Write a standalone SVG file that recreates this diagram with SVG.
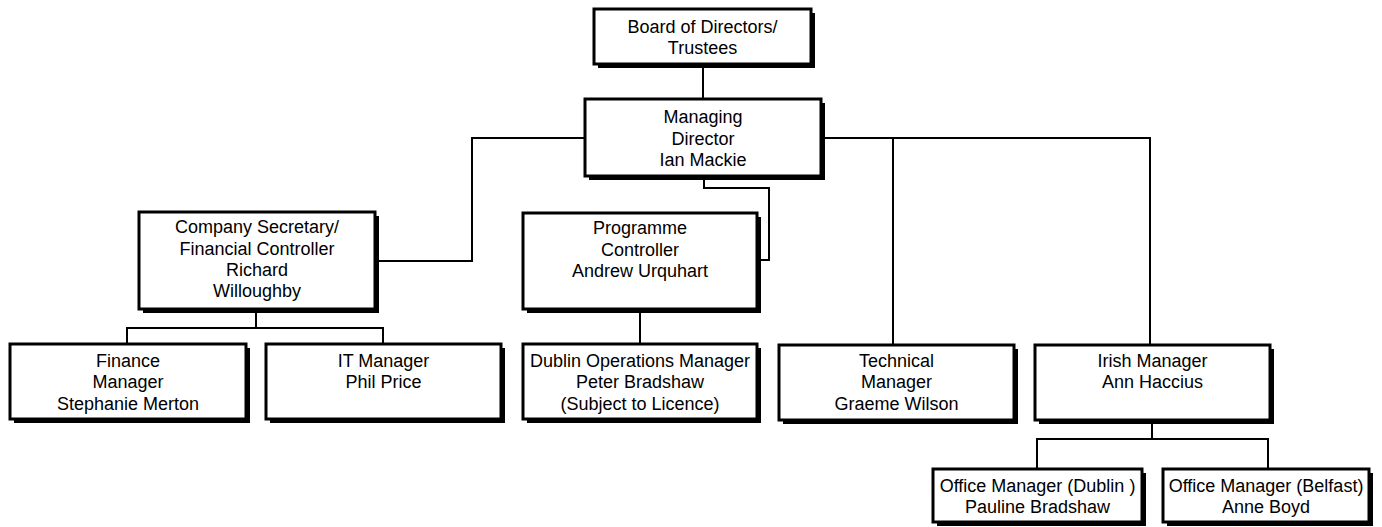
<svg xmlns="http://www.w3.org/2000/svg" width="1382" height="527" viewBox="0 0 1382 527">
<style>
.sh{fill:#000}
.bx{fill:#fff;stroke:#000;stroke-width:3}
.t{font-family:"Liberation Sans",Arial,sans-serif;font-size:18px;fill:#000;text-anchor:middle}
.c{fill:none;stroke:#000;stroke-width:2}
</style>
<rect width="1382" height="527" fill="#fff"/>
<g id="connectors">
<path class="c" d="M703,65V99"/>
<path class="c" d="M585,138H472V261H377"/>
<path class="c" d="M821,138H1150V345M893,138V345"/>
<path class="c" d="M704,176V188H769V260H757"/>
<path class="c" d="M256,309V328M127,344V328H383V344"/>
<path class="c" d="M640,309V344"/>
<path class="c" d="M1152,420V439M1037,469V439H1268V469"/>
</g>
<g id="board"><rect class="sh" x="598" y="13" width="217" height="55"/><rect class="bx" x="594" y="9" width="217" height="55"/><text class="t" x="702.5" y="33">Board of Directors/</text><text class="t" x="702.5" y="54">Trustees</text></g>
<g id="md"><rect class="sh" x="589" y="103" width="236" height="77"/><rect class="bx" x="585" y="99" width="236" height="77"/><text class="t" x="703" y="123">Managing</text><text class="t" x="703" y="145">Director</text><text class="t" x="703" y="166">Ian Mackie</text></g>
<g id="cs"><rect class="sh" x="143" y="216" width="236" height="97"/><rect class="bx" x="139" y="212" width="236" height="97"/><text class="t" x="257" y="233">Company Secretary/</text><text class="t" x="257" y="255">Financial Controller</text><text class="t" x="257" y="276">Richard</text><text class="t" x="257" y="297">Willoughby</text></g>
<g id="pc"><rect class="sh" x="527" y="217" width="234" height="96"/><rect class="bx" x="523" y="213" width="234" height="96"/><text class="t" x="640" y="234">Programme</text><text class="t" x="640" y="256">Controller</text><text class="t" x="640" y="277">Andrew Urquhart</text></g>
<g id="fin"><rect class="sh" x="14" y="348" width="236" height="75"/><rect class="bx" x="10" y="344" width="236" height="75"/><text class="t" x="128" y="367">Finance</text><text class="t" x="128" y="388">Manager</text><text class="t" x="128" y="410">Stephanie Merton</text></g>
<g id="it"><rect class="sh" x="270" y="348" width="235" height="75"/><rect class="bx" x="266" y="344" width="235" height="75"/><text class="t" x="383.5" y="367">IT Manager</text><text class="t" x="383.5" y="388">Phil Price</text></g>
<g id="dub"><rect class="sh" x="527" y="348" width="234" height="75"/><rect class="bx" x="523" y="344" width="234" height="75"/><text class="t" x="640" y="367">Dublin Operations Manager</text><text class="t" x="640" y="388">Peter Bradshaw</text><text class="t" x="640" y="410">(Subject to Licence)</text></g>
<g id="tech"><rect class="sh" x="783" y="349" width="235" height="75"/><rect class="bx" x="779" y="345" width="235" height="75"/><text class="t" x="896.5" y="367">Technical</text><text class="t" x="896.5" y="388">Manager</text><text class="t" x="896.5" y="410">Graeme Wilson</text></g>
<g id="irish"><rect class="sh" x="1039" y="349" width="235" height="75"/><rect class="bx" x="1035" y="345" width="235" height="75"/><text class="t" x="1152.5" y="367">Irish Manager</text><text class="t" x="1152.5" y="388">Ann Haccius</text></g>
<g id="offd"><rect class="sh" x="937" y="473" width="209" height="53"/><rect class="bx" x="933" y="469" width="209" height="53"/><text class="t" x="1037.5" y="492">Office Manager (Dublin )</text><text class="t" x="1037.5" y="513">Pauline Bradshaw</text></g>
<g id="offb"><rect class="sh" x="1167" y="473" width="206" height="53"/><rect class="bx" x="1163" y="469" width="206" height="53"/><text class="t" x="1266" y="492">Office Manager (Belfast)</text><text class="t" x="1266" y="513">Anne Boyd</text></g>
</svg>
